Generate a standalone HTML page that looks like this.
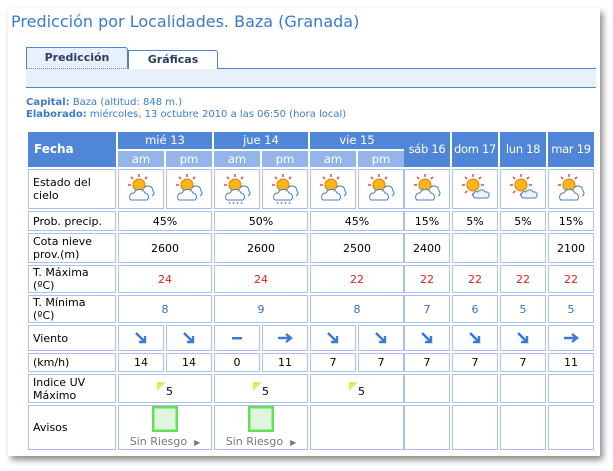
<!DOCTYPE html>
<html><head><meta charset="utf-8"><style>
body{margin:0;width:613px;height:471px;background:#fff;font-family:"DejaVu Sans","Liberation Sans",sans-serif;position:relative;overflow:hidden}
#box{position:absolute;left:8px;top:8px;width:592px;height:448px;background:#fff;box-shadow:3px 4px 6px rgba(0,0,0,.45)}
.a{position:absolute;box-sizing:border-box}
.c{position:absolute;box-sizing:border-box;border:1px solid #a9c2ea;font-size:11px;color:#000;display:flex;align-items:center;justify-content:center;text-align:center;line-height:13px}
.h{background:#4f86d8;color:#fff;border:none;font-size:11.5px}
.s{background:#93b5e8;color:#fff;border:none;font-size:11.5px}
.l{justify-content:flex-start;padding-left:4px;text-align:left}
</style></head><body>
<div id="box"></div>
<div class="a" style="left:11px;top:12px;font-size:16px;color:#3b7bcc;white-space:nowrap">Predicción por Localidades. Baza (Granada)</div>
<div class="a" style="left:26px;top:47px;width:102px;height:22px;background:#e8f0fb;border:1px solid #4d84d6;border-bottom:1px dotted #4d84d6;border-radius:0 3px 0 0;font-size:11px;font-weight:bold;color:#2a3d66;text-align:center;padding-top:3px">Predicción</div>
<div class="a" style="left:128px;top:50px;width:90px;height:19px;border:1px solid #4d84d6;border-bottom:none;border-radius:0 3px 0 0;font-size:11px;font-weight:bold;color:#2a3d66;text-align:center;padding-top:2px">Gráficas</div>
<div class="a" style="left:218px;top:68px;width:378px;height:1px;background:#4d84d6"></div>
<div class="a" style="left:26px;top:69px;width:570px;height:19px;background:#e8f0fb;border-bottom:1px solid #4d84d6"></div>
<div class="a" style="left:26px;top:97px;font-size:10px;color:#3b7bcc;line-height:12px;white-space:nowrap"><b>Capital:</b> Baza (altitud: 848 m.)<br><b>Elaborado:</b> miércoles, 13 octubre 2010 a las 06:50 (hora local)</div>
<div id="t"></div>
<script>
var H='';
function c(x,y,w,h,cls,txt,st){H+='<div class="c '+cls+'" style="left:'+x+'px;top:'+y+'px;width:'+w+'px;height:'+h+'px;'+(st||'')+'">'+txt+'</div>';}
var halves=[[118,46],[166,46],[214,46],[262,46],[310,46],[358,46]];
var days=[[404,46],[452,46],[500,46],[548,46]];
var all=halves.concat(days);
c(28,132,88,35,'h l','<b style="padding-left:2px;font-size:12px">Fecha</b>');
var dn=['mié 13','jue 14','vie 15'];
for(var i=0;i<3;i++){c(118+i*96,132,94,17,'h',dn[i]);c(118+i*96,151,46,16,'s','am');c(166+i*96,151,46,16,'s','pm');}
var dd=['sáb 16','dom 17','lun 18','mar 19'];
for(i=0;i<4;i++)c(days[i][0],132,days[i][1],35,'h',dd[i],'white-space:nowrap;letter-spacing:-0.3px');
var rows=[[169,40],[211,20],[233,30],[265,28],[295,28],[325,26],[353,19],[374,29],[405,45]];
var labels=['Estado del<br>cielo','Prob. precip.','Cota nieve<br>prov.(m)','T. Máxima<br>(ºC)','T. Mínima<br>(ºC)','Viento','(km/h)','Indice UV<br>Máximo','Avisos'];
for(i=0;i<rows.length;i++)c(28,rows[i][0],88,rows[i][1],'l',labels[i]);
function sun(r){return '<circle cx="14" cy="13" r="6" fill="#f9b51c" stroke="#e6791c"/><g stroke="#e0402a" stroke-width="1.4"><line x1="14" y1="2" x2="14" y2="5"/><line x1="3" y1="13" x2="6" y2="13"/><line x1="6" y1="5" x2="8" y2="7"/><line x1="22" y1="5" x2="20" y2="7"/>'+(r?'<line x1="25" y1="13" x2="22" y2="13"/><line x1="14" y1="24" x2="14" y2="21"/><line x1="6" y1="21" x2="8" y2="19"/>':'')+'</g>';}
function icon(t){var s='<svg width="32" height="32" viewBox="0 0 32 32">';
 if(t=='s'){s+=sun(1)+'<path d="M16 26h12a3 3 0 0 0-2-6a4 4 0 0 0-7 0a3 3 0 0 0-3 6z" fill="#eef4fc" stroke="#4a7cc0"/>';}
 else{s+=sun(0)+'<path d="M19 16a5 5 0 0 1 9 3a3 3 0 0 1-1 5" fill="#fff" stroke="#4a7cc0"/><path d="M6 28h16a4 4 0 0 0-2-7a6 6 0 0 0-11 0a4 4 0 0 0-3 7z" fill="#fff" stroke="#4a7cc0"/>';
 if(t=='r')s+='<g stroke="#7a8ea8" stroke-width="1.3"><line x1="9" y1="30" x2="8" y2="32"/><line x1="13" y1="30" x2="12" y2="32"/><line x1="17" y1="30" x2="16" y2="32"/><line x1="21" y1="30" x2="20" y2="32"/></g>';}
 return s+'</svg>';}
var ic=['c','c','r','r','c','c','c','s','s','c'];
for(i=0;i<10;i++)c(all[i][0],169,all[i][1],40,'',icon(ic[i]),'align-items:flex-start;padding-top:2px');
function m(y,h,vals,st){for(var k=0;k<3;k++)c(118+k*96,y,94,h,'',vals[k],st);for(k=0;k<4;k++)c(days[k][0],y,46,h,'',vals[3+k],st);}
m(211,20,['45%','50%','45%','15%','5%','5%','15%']);
m(233,30,['2600','2600','2500','2400','','','2100']);
m(265,28,['24','24','22','22','22','22','22'],'color:#e02020');
m(295,28,['8','9','8','7','6','5','5'],'color:#3a6fc4');
var ar='<svg width="14" height="14" viewBox="0 0 14 14"><path d="M2 2L11 11M11 5V11H5" stroke="#3c7ad4" stroke-width="2.4" fill="none"/></svg>';
var rt='<svg width="16" height="12" viewBox="0 0 16 12"><path d="M1 6H13M9 2L14 6L9 10" stroke="#3c7ad4" stroke-width="2.4" fill="none"/></svg>';
var ds='<svg width="12" height="4"><rect width="10" height="2.5" x="1" y="1" fill="#3c7ad4"/></svg>';
var w=[ar,ar,ds,rt,ar,ar,ar,ar,ar,rt];var kmh=['14','14','0','11','7','7','7','7','7','11'];
for(i=0;i<10;i++){c(all[i][0],325,all[i][1],26,'',w[i]);c(all[i][0],353,all[i][1],19,'',kmh[i]);}
var uv='<svg width="9" height="9" style="margin-bottom:4px"><path d="M0 0H9L0 9z" fill="#e6ea5a"/></svg><span style="margin-top:6px">5</span>';
m(374,29,[uv,uv,uv,'','','','']);
var av='<div style="display:flex;flex-direction:column;align-items:center"><div style="width:22px;height:22px;background:#e0f4e0;border:2px solid #66dd55;box-shadow:inset 0 0 0 1px #9e9"></div><div style="color:#777;margin-top:3px;white-space:nowrap">Sin Riesgo &nbsp;<span style="font-size:8px">▶</span></div></div>';
m(405,45,[av,av,'','','','','']);
document.getElementById('t').innerHTML=H;
</script>
</body></html>
